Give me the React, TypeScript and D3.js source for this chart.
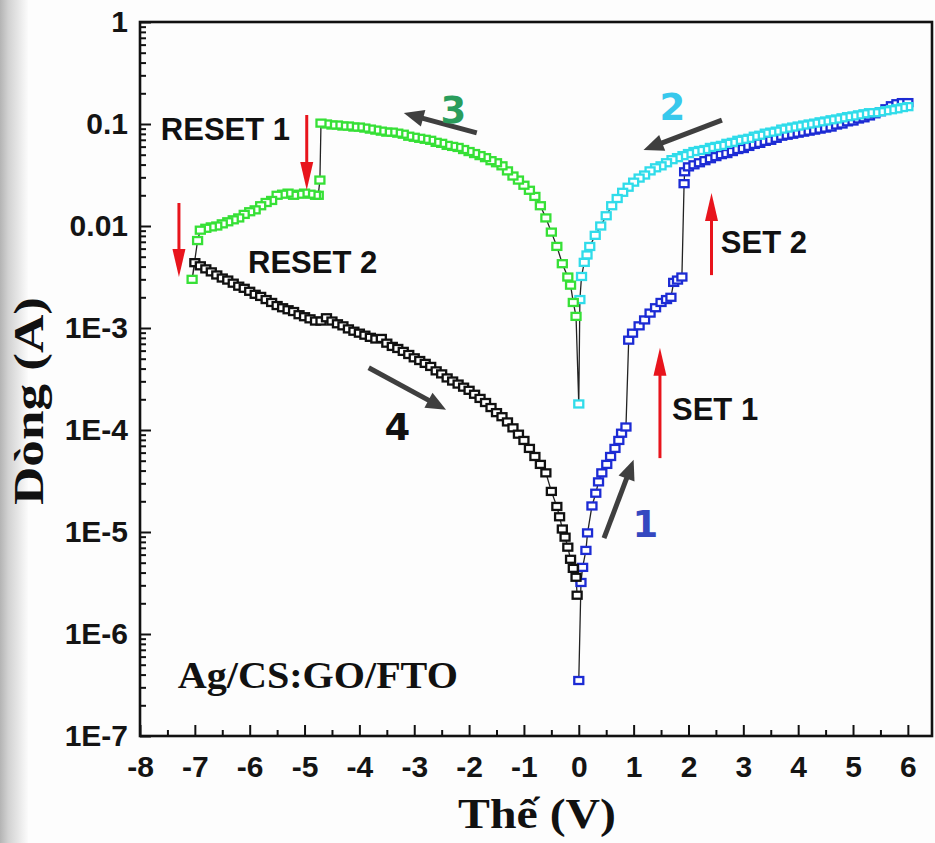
import React, { useRef, useEffect } from "react";
import * as d3 from "d3";

// sweep 1 (blue): 0 V -> +6 V, SET 1 near 0.9 V and SET 2 near 1.9 V
const sweep1V = [
  0, 0.04, 0.07, 0.13, 0.16, 0.24, 0.31, 0.36, 0.42, 0.51, 0.58, 0.66, 0.73, 0.78, 0.86,
  0.91, 0.98, 1.1, 1.2, 1.3, 1.4, 1.5, 1.6, 1.68, 1.73, 1.8, 1.88,
  1.92, 1.93, 2.0, 2.1, 2.2, 2.3, 2.4, 2.5, 2.6, 2.7, 2.8, 2.9, 3.0, 3.1, 3.2, 3.3, 3.4,
  3.5, 3.6, 3.7, 3.8, 3.9, 4.0, 4.1, 4.2, 4.3, 4.4, 4.5, 4.6, 4.7, 4.8, 4.9, 5.0, 5.1,
  5.2, 5.3, 5.4, 5.5, 5.6, 5.7, 5.8, 5.9, 6.0,
];
const sweep1I = [
  3.5e-7, 3.2e-6, 4.5e-6, 6.6e-6, 9.8e-6, 1.8e-5, 2.4e-5, 3.1e-5, 3.8e-5, 4.6e-5, 5.5e-5,
  6.6e-5, 7.9e-5, 9.3e-5, 1.07e-4,
  7.6e-4, 8.9e-4, 1.05e-3, 1.2e-3, 1.4e-3, 1.58e-3, 1.78e-3, 1.9e-3, 2.0e-3, 2.8e-3,
  2.95e-3, 3.16e-3,
  0.026, 0.034, 0.038, 0.0398, 0.0417, 0.0437, 0.0457, 0.0479, 0.0501, 0.0513, 0.0537,
  0.0562, 0.0575, 0.0603, 0.0631, 0.0646, 0.0676, 0.0692, 0.0724, 0.0759, 0.0776, 0.0794,
  0.0813, 0.0832, 0.0851, 0.0871, 0.0891, 0.0912, 0.0933, 0.0977, 0.1, 0.105, 0.107,
  0.112, 0.115, 0.12, 0.126, 0.132, 0.141, 0.151, 0.158, 0.162, 0.162,
];

// sweep 2 (cyan): +6 V -> 0 V
const sweep2V = [
  6.0, 5.9, 5.8, 5.7, 5.6, 5.5, 5.4, 5.3, 5.2, 5.1, 5.0, 4.9, 4.8, 4.7, 4.6, 4.5, 4.4, 4.3,
  4.2, 4.1, 4.0, 3.9, 3.8, 3.7, 3.6, 3.5, 3.4, 3.3, 3.2, 3.1, 3.0, 2.9, 2.8, 2.7, 2.6, 2.5,
  2.4, 2.3, 2.2, 2.1, 2.0, 1.9, 1.8, 1.7, 1.6, 1.5, 1.4, 1.3, 1.2, 1.1, 1.0, 0.9, 0.8, 0.7,
  0.6, 0.5, 0.4, 0.3, 0.2, 0.15, 0.1, 0.05, 0.02, 0,
];
const sweep2I = [
  0.148, 0.145, 0.141, 0.138, 0.135, 0.132, 0.129, 0.129, 0.126, 0.123, 0.12, 0.118,
  0.115, 0.112, 0.11, 0.107, 0.105, 0.102, 0.1, 0.0977, 0.0955, 0.0933, 0.0912, 0.0891,
  0.0851, 0.0832, 0.0813, 0.0776, 0.0759, 0.0724, 0.0708, 0.0692, 0.0661, 0.0646, 0.0617,
  0.0603, 0.0589, 0.0562, 0.055, 0.0537, 0.0513, 0.049, 0.0468, 0.0447, 0.0417, 0.0389,
  0.0372, 0.0347, 0.0316, 0.0295, 0.0269, 0.024, 0.0214, 0.0186, 0.0158, 0.0126, 0.01,
  0.0081, 0.0063, 0.0052, 0.0044, 0.0032, 0.0019, 0.00018,
];

// sweep 3 (green): 0 V -> -7.2 V, RESET 1 near -4.7 V and RESET 2 near -7 V
const sweep3V = [
  -0.05, -0.1, -0.15, -0.2, -0.3, -0.4, -0.5, -0.6, -0.7, -0.8, -0.9, -1.0, -1.1, -1.2,
  -1.3, -1.4, -1.5, -1.6, -1.7, -1.8, -1.9, -2.0, -2.1, -2.2, -2.3, -2.4, -2.5, -2.6, -2.7,
  -2.8, -2.9, -3.0, -3.1, -3.2, -3.3, -3.4, -3.5, -3.6, -3.7, -3.8, -3.9, -4.0, -4.1, -4.2,
  -4.3, -4.4, -4.5, -4.6, -4.7,
  -4.72, -4.75, -4.8, -4.9, -5.0, -5.1, -5.2, -5.3, -5.4, -5.5, -5.6, -5.7, -5.8, -5.9,
  -6.0, -6.1, -6.2, -6.3, -6.4, -6.5, -6.6, -6.7, -6.8, -6.9, -6.95, -7.05,
];
const sweep3I = [
  1.3e-3, 1.78e-3, 2.63e-3, 3.16e-3, 4.27e-3, 6.31e-3, 8.71e-3, 0.012, 0.0158, 0.0195,
  0.0224, 0.0251, 0.0282, 0.0309, 0.0347, 0.0389, 0.0417, 0.0437, 0.0468, 0.049, 0.0513,
  0.0537, 0.0562, 0.0589, 0.0603, 0.0617, 0.0646, 0.0661, 0.0692, 0.0708, 0.0724, 0.0741,
  0.0759, 0.0794, 0.0813, 0.0832, 0.0832, 0.0851, 0.0871, 0.0891, 0.0912, 0.0933, 0.0933,
  0.0955, 0.0955, 0.0977, 0.0977, 0.1, 0.102,
  0.0282, 0.02, 0.02, 0.0205, 0.021, 0.0205, 0.02, 0.021, 0.0205, 0.02, 0.0178, 0.017,
  0.0158, 0.0144, 0.0138, 0.013, 0.012, 0.0115, 0.011, 0.0105, 0.01, 0.0098, 0.0095,
  0.0091, 0.0072, 0.003,
];

// sweep 4 (black): -7.2 V -> 0 V
const sweep4V = [
  -7.0, -6.9, -6.8, -6.7, -6.6, -6.5, -6.4, -6.3, -6.2, -6.1, -6.0, -5.9, -5.8, -5.7, -5.6,
  -5.5, -5.4, -5.3, -5.2, -5.1, -5.0, -4.9, -4.8, -4.7, -4.6, -4.5, -4.4, -4.3, -4.2, -4.1,
  -4.0, -3.9, -3.8, -3.7, -3.6, -3.5, -3.4, -3.3, -3.2, -3.1, -3.0, -2.9, -2.8, -2.7, -2.6,
  -2.5, -2.4, -2.3, -2.2, -2.1, -2.0, -1.9, -1.8, -1.7, -1.6, -1.5, -1.4, -1.3, -1.2, -1.1,
  -1.0, -0.9, -0.8, -0.7, -0.6, -0.5, -0.4, -0.35, -0.3, -0.25, -0.2, -0.15, -0.1, -0.05,
  -0.03,
];
const sweep4I = [
  4.37e-3, 4.07e-3, 3.8e-3, 3.55e-3, 3.31e-3, 3.09e-3, 2.95e-3, 2.75e-3, 2.57e-3, 2.45e-3,
  2.29e-3, 2.14e-3, 2.04e-3, 1.9e-3, 1.78e-3, 1.66e-3, 1.58e-3, 1.51e-3, 1.45e-3, 1.35e-3,
  1.29e-3, 1.23e-3, 1.17e-3, 1.17e-3, 1.26e-3, 1.17e-3, 1.1e-3, 1.05e-3, 9.8e-4, 9.3e-4,
  8.9e-4, 8.5e-4, 8.1e-4, 7.8e-4, 7.9e-4, 7.1e-4, 6.6e-4, 6.3e-4, 5.9e-4, 5.5e-4, 5.1e-4,
  4.8e-4, 4.5e-4, 4.2e-4, 3.8e-4, 3.55e-4, 3.24e-4, 3.02e-4, 2.82e-4, 2.63e-4, 2.45e-4,
  2.24e-4, 2.04e-4, 1.86e-4, 1.66e-4, 1.48e-4, 1.35e-4, 1.2e-4, 1.05e-4, 9.1e-5, 7.9e-5,
  6.6e-5, 5.5e-5, 4.6e-5, 3.8e-5, 2.5e-5, 1.78e-5, 1.41e-5, 1.07e-5, 8.9e-6, 7.1e-6,
  5.4e-6, 4.4e-6, 3.6e-6, 2.4e-6,
];

const xTickValues = [-8, -7, -6, -5, -4, -3, -2, -1, 0, 1, 2, 3, 4, 5, 6];
const yTickValues = [1, 0.1, 0.01, 1e-3, 1e-4, 1e-5, 1e-6, 1e-7];
const yTickLabels = ["1", "0.1", "0.01", "1E-3", "1E-4", "1E-5", "1E-6", "1E-7"];

const sweepColors = ["#1c2bd4", "#30dcea", "#36e036", "#111111"];

// annotation anchors, in data units (V, A)
const grayArrows = [
  { from: [-1.86, 0.0817], to: [-3.19, 0.128] },
  { from: [2.61, 0.109], to: [1.18, 0.0556] },
  { from: [-3.83, 4.07e-4], to: [-2.42, 1.58e-4] },
  { from: [0.46, 8.7e-6], to: [1.0, 5.1e-5] },
];
const redArrows = [
  { from: [-4.96, 0.1225], to: [-4.96, 0.0225] },
  { from: [-7.29, 0.0168], to: [-7.29, 0.00316] },
  { from: [2.42, 0.0033], to: [2.42, 0.0211] },
  { from: [1.48, 5.3e-5], to: [1.48, 6.4e-4] },
];
const stepLabels = [
  { text: "RESET 1", v: -7.62, i: 0.0697 },
  { text: "RESET 2", v: -6.03, i: 0.00347 },
  { text: "SET 2", v: 2.59, i: 0.00543 },
  { text: "SET 1", v: 1.7, i: 1.26e-4 },
];
const sweepLabels = [
  { text: "3", v: -2.52, i: 0.102, color: "#2a9d5c" },
  { text: "2", v: 1.47, i: 0.1096, color: "#38c8ec" },
  { text: "1", v: 0.98, i: 8.9e-6, color: "#3548c0" },
  { text: "4", v: -3.54, i: 7.9e-5, color: "#111111" },
];

const sansBold = "'Liberation Sans', Arial, sans-serif";
const serifBold = "'Liberation Serif', 'Times New Roman', serif";

const IVChart = () => {
  const d3Container = useRef(null);

  useEffect(() => {
    if (!d3Container.current) return;
    const svg = d3.select(d3Container.current);
    svg.selectAll("*").remove();

    const width = 935,
      height = 843;
    const left = 140,
      right = 932,
      top = 22,
      bottom = 736;

    const x = d3.scaleLinear().domain([-8, 6.44]).range([left, right]);
    const y = d3.scaleLog().domain([1e-7, 1]).range([bottom, top]);

    // page background + grey slide edge on the left
    const defs = svg.append("defs");
    const grad = defs
      .append("linearGradient")
      .attr("id", "edge")
      .attr("x1", "0")
      .attr("x2", "1")
      .attr("y1", "0")
      .attr("y2", "0");
    grad.append("stop").attr("offset", "0").attr("stop-color", "#b4b4b4");
    grad.append("stop").attr("offset", "0.3").attr("stop-color", "#d2d2d2");
    grad.append("stop").attr("offset", "1").attr("stop-color", "#fbfbfb");
    svg.append("rect").attr("width", width).attr("height", height).attr("fill", "#fdfdfd");
    svg.append("rect").attr("width", 28).attr("height", height).attr("fill", "url(#edge)");

    const sweeps = [
      { v: sweep1V, i: sweep1I },
      { v: sweep2V, i: sweep2I },
      { v: sweep3V, i: sweep3I },
      { v: sweep4V, i: sweep4I },
    ].map((s) => s.v.map((v, k) => ({ v, i: s.i[k] })));

    // thin connecting line, through all four sweeps in measuring order
    const line = d3
      .line()
      .x((d) => x(d.v))
      .y((d) => y(d.i));
    svg
      .append("path")
      .datum([...sweeps[0], ...sweeps[1], ...sweeps[2], ...sweeps[3]])
      .attr("d", line)
      .attr("fill", "none")
      .attr("stroke", "#222")
      .attr("stroke-width", 1.3);

    // square symbols
    sweeps.forEach((pts, k) => {
      svg
        .append("g")
        .selectAll("rect")
        .data(pts)
        .join("rect")
        .attr("x", (d) => x(d.v) - 4.5)
        .attr("y", (d) => y(d.i) - 3.5)
        .attr("width", 9)
        .attr("height", 7)
        .attr("fill", "#fff")
        .attr("stroke", sweepColors[k])
        .attr("stroke-width", 2.3);
    });

    // axes, ticks pointing inward
    const yAxis = svg
      .append("g")
      .attr("transform", `translate(${left},0)`)
      .call(
        d3
          .axisLeft(y)
          .tickValues(yTickValues)
          .tickFormat((d, k) => yTickLabels[k])
          .tickSize(-11)
          .tickPadding(12)
      );
    const yMinor = [];
    for (let e = -7; e < 0; e++) {
      for (let m = 2; m <= 9; m++) yMinor.push(m * Math.pow(10, e));
    }
    svg
      .append("g")
      .attr("transform", `translate(${left},0)`)
      .call(d3.axisLeft(y).tickValues(yMinor).tickFormat(() => "").tickSize(-6));

    const xAxis = svg
      .append("g")
      .attr("transform", `translate(0,${bottom})`)
      .call(
        d3
          .axisBottom(x)
          .tickValues(xTickValues)
          .tickFormat((d) => String(d))
          .tickSize(-11)
          .tickPadding(20)
      );
    svg
      .append("g")
      .attr("transform", `translate(0,${bottom})`)
      .call(
        d3
          .axisBottom(x)
          .tickValues(xTickValues.slice(0, -1).map((d) => d + 0.5))
          .tickFormat(() => "")
          .tickSize(-6)
      );

    svg.selectAll(".domain").remove();
    svg.selectAll(".tick line").attr("stroke", "#111").attr("stroke-width", 2);
    [xAxis, yAxis].forEach((a) =>
      a
        .selectAll("text")
        .attr("fill", "#141414")
        .style("font-family", sansBold)
        .style("font-weight", "bold")
        .style("font-size", "30px")
    );

    // frame
    svg
      .append("rect")
      .attr("x", left)
      .attr("y", top)
      .attr("width", right - left)
      .attr("height", bottom - top)
      .attr("fill", "none")
      .attr("stroke", "#111")
      .attr("stroke-width", 2.6);

    // arrows
    const arrow = (a, color, sw, headLen, headW) => {
      const x1 = x(a.from[0]),
        y1 = y(a.from[1]),
        x2 = x(a.to[0]),
        y2 = y(a.to[1]);
      const len = Math.hypot(x2 - x1, y2 - y1);
      const ux = (x2 - x1) / len,
        uy = (y2 - y1) / len;
      const bx = x2 - ux * headLen,
        by = y2 - uy * headLen;
      svg
        .append("line")
        .attr("x1", x1)
        .attr("y1", y1)
        .attr("x2", bx + ux * 2)
        .attr("y2", by + uy * 2)
        .attr("stroke", color)
        .attr("stroke-width", sw);
      svg
        .append("polygon")
        .attr(
          "points",
          [
            [x2, y2],
            [bx - uy * headW / 2, by + ux * headW / 2],
            [bx + uy * headW / 2, by - ux * headW / 2],
          ]
            .map((p) => p.join(","))
            .join(" ")
        )
        .attr("fill", color);
    };
    grayArrows.forEach((a) => arrow(a, "#3f3f3f", 5, 20, 17));
    redArrows.forEach((a) => arrow(a, "#e8141c", 3, 28, 13));

    // labels
    stepLabels.forEach((l) => {
      svg
        .append("text")
        .attr("x", x(l.v))
        .attr("y", y(l.i))
        .attr("fill", "#111")
        .style("font-family", sansBold)
        .style("font-weight", "bold")
        .style("font-size", "31px")
        .text(l.text);
    });
    sweepLabels.forEach((l) => {
      svg
        .append("text")
        .attr("x", x(l.v))
        .attr("y", y(l.i))
        .attr("fill", l.color)
        .style("font-family", "'DejaVu Sans', sans-serif")
        .style("font-weight", "bold")
        .style("font-size", "37px")
        .text(l.text);
    });

    svg
      .append("text")
      .attr("x", x(-7.31))
      .attr("y", y(2.95e-7))
      .attr("fill", "#111")
      .attr("textLength", 280)
      .attr("lengthAdjust", "spacingAndGlyphs")
      .style("font-family", serifBold)
      .style("font-weight", "bold")
      .style("font-size", "38px")
      .text("Ag/CS:GO/FTO");

    // axis titles
    svg
      .append("text")
      .attr("x", 537)
      .attr("y", 828)
      .attr("text-anchor", "middle")
      .attr("fill", "#111")
      .attr("textLength", 158)
      .attr("lengthAdjust", "spacingAndGlyphs")
      .style("font-family", serifBold)
      .style("font-weight", "bold")
      .style("font-size", "42px")
      .text("Thế (V)");

    svg
      .append("text")
      .attr("transform", "translate(43,401) rotate(-90)")
      .attr("text-anchor", "middle")
      .attr("fill", "#111")
      .attr("textLength", 208)
      .attr("lengthAdjust", "spacingAndGlyphs")
      .style("font-family", serifBold)
      .style("font-weight", "bold")
      .style("font-size", "42px")
      .text("Dòng (A)");
  }, []);

  return (
    <svg
      ref={d3Container}
      width={935}
      height={843}
      style={{ position: "absolute", left: 0, top: 0 }}
    />
  );
};

export default function App() {
  return <IVChart />;
}
